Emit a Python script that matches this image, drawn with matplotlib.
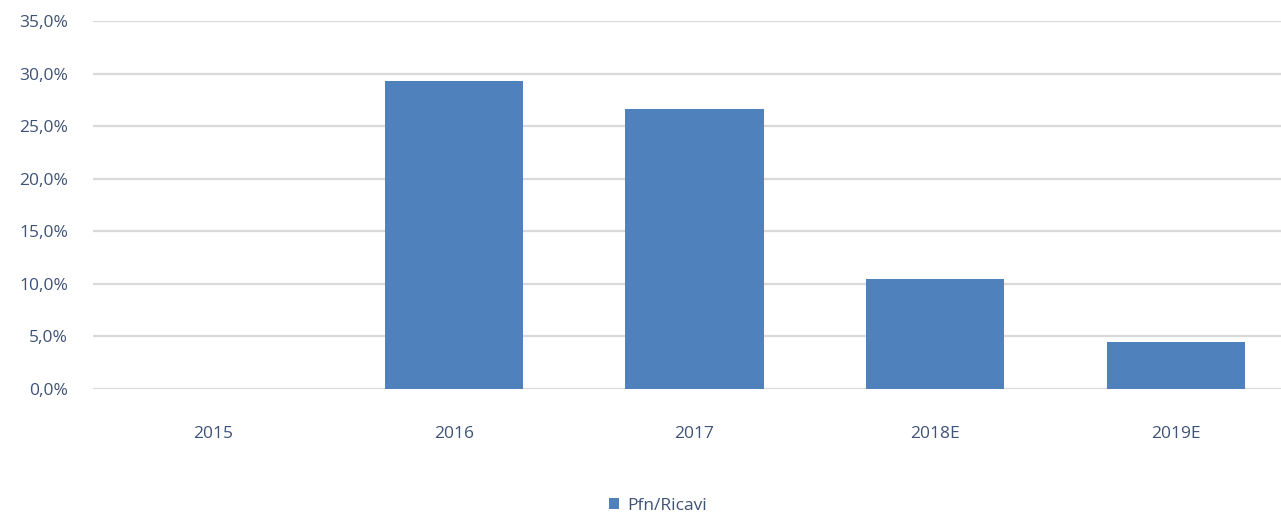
import matplotlib
matplotlib.use("Agg")
import matplotlib.pyplot as plt
from matplotlib.ticker import FuncFormatter, MultipleLocator
from matplotlib.patches import Patch

# Pfn / Ricavi ratio by year (percent)
years = ['2015', '2016', '2017', '2018E', '2019E']
pfn_ricavi = [0.0, 29.3, 26.6, 10.5, 4.5]

bar_color = '#4f81bd'
text_color = '#3f5277'
grid_color = '#d9d9d9'

plt.rcParams['font.family'] = ['Open Sans', 'DejaVu Sans']

fig = plt.figure(figsize=(12.81, 5.19), dpi=100)
# axes runs a little past the right edge of the canvas
ax = fig.add_axes([93 / 1281, 130 / 519, 1203 / 1281, 368 / 519])

x = range(len(years))
ax.bar(x, pfn_ricavi, width=0.575, color=bar_color, zorder=3)

ax.set_xlim(-0.5, len(years) - 0.5)
ax.set_ylim(0, 35)
ax.yaxis.set_major_locator(MultipleLocator(5))
ax.yaxis.set_major_formatter(FuncFormatter(lambda v, p: f'{v:.1f}%'.replace('.', ',')))
ax.set_xticks(list(x))
ax.set_xticklabels(years)

ax.grid(axis='y', color=grid_color, linewidth=1.6, zorder=0)
ax.set_axisbelow(True)
for s in ax.spines.values():
    s.set_visible(False)

ax.tick_params(axis='y', length=0, pad=18, labelsize=12.5, labelcolor=text_color)
ax.tick_params(axis='x', length=0, pad=27, labelsize=12.5, labelcolor=text_color)

handles = [Patch(facecolor=bar_color, label='Pfn/Ricavi')]
fig.legend(handles=handles, loc='center', bbox_to_anchor=(658 / 1281, 1 - 506 / 519),
           frameon=False, fontsize=12.5, labelcolor=text_color,
           handlelength=0.6, handleheight=0.6, handletextpad=0.5)

fig.savefig('out.png', dpi=100, facecolor='white')
